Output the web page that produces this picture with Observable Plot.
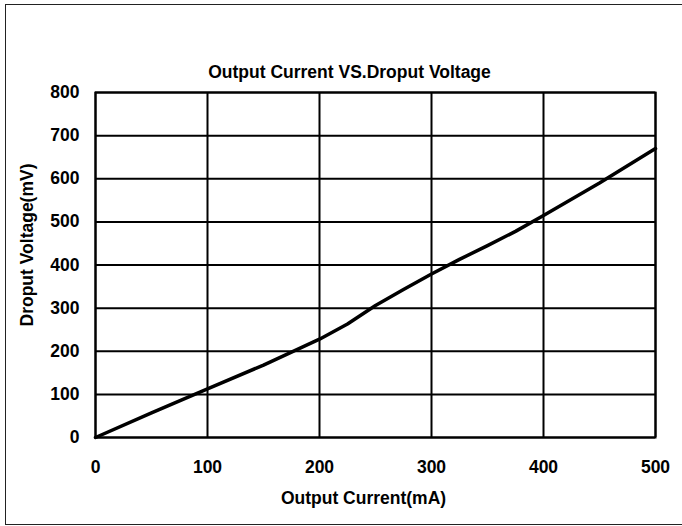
<!DOCTYPE html>
<html>
<head>
<meta charset="utf-8">
<script src="https://cdn.jsdelivr.net/npm/d3@7"></script>
<script src="https://cdn.jsdelivr.net/npm/@observablehq/plot@0.6"></script>
<style>
  html, body { margin: 0; padding: 0; background: #fff; overflow: hidden; }
  #wrap { position: relative; width: 682px; height: 526px; overflow: hidden; }
  #border { position: absolute; left: 5px; top: 4px; width: 720px; height: 519px; border: 1.5px solid #222; box-sizing: content-box; }
  #chart { position: absolute; left: 0; top: 0; }
</style>
</head>
<body>
<div id="wrap">
  <div id="border"></div>
  <div id="chart"></div>
</div>
<script>
// Data
const currents = [0, 50, 100, 150, 200, 225, 250, 275, 300, 325, 350, 375, 400, 450, 500];
const voltages = [0, 57, 113, 168, 228, 263, 306, 343, 379, 413, 445, 478, 515, 590, 670];

const xTicks = [0, 100, 200, 300, 400, 500];
const yTicks = [0, 100, 200, 300, 400, 500, 600, 700, 800];

const title = "Output Current VS.Droput Voltage";
const xLabel = "Output Current(mA)";
const yLabel = "Droput Voltage(mV)";

const data = currents.map((c, i) => ({current: c, voltage: voltages[i]}));

const chart = Plot.plot({
  width: 682,
  height: 526,
  marginLeft: 95,
  marginRight: 27,
  marginTop: 92,
  marginBottom: 89,
  style: {
    fontFamily: "'Liberation Sans', Arial, sans-serif",
    fontSize: "17.5px",
    fontWeight: "bold",
    color: "#000",
    background: "transparent",
    overflow: "visible"
  },
  x: {domain: [0, 500]},
  y: {domain: [0, 800]},
  marks: [
    Plot.ruleY(yTicks, {stroke: "#000", strokeWidth: 2}),
    Plot.ruleX(xTicks, {stroke: "#000", strokeWidth: 2}),
    Plot.frame({stroke: "#000", strokeWidth: 2}),
    Plot.axisX(xTicks, {tickSize: 0, tickPadding: 23, label: null, fill: "#000"}),
    Plot.axisY(yTicks, {tickSize: 0, tickPadding: 16, label: null, fill: "#000"}),
    Plot.line(data, {x: "current", y: "voltage", stroke: "#000", strokeWidth: 3.5, strokeLinejoin: "round"}),
    Plot.text([title], {frameAnchor: "top", textAnchor: "middle", dx: -26, dy: -27, fontSize: 17.5, fontWeight: "bold", fill: "#000"}),
    Plot.text([xLabel], {frameAnchor: "bottom", textAnchor: "middle", dx: -12, dy: 66, fontSize: 17.5, fontWeight: "bold", fill: "#000"}),
    Plot.text([yLabel], {frameAnchor: "left", textAnchor: "middle", dx: -68, dy: -20, rotate: -90, fontSize: 17.5, fontWeight: "bold", fill: "#000"})
  ]
});

document.getElementById("chart").appendChild(chart);
</script>
</body>
</html>
